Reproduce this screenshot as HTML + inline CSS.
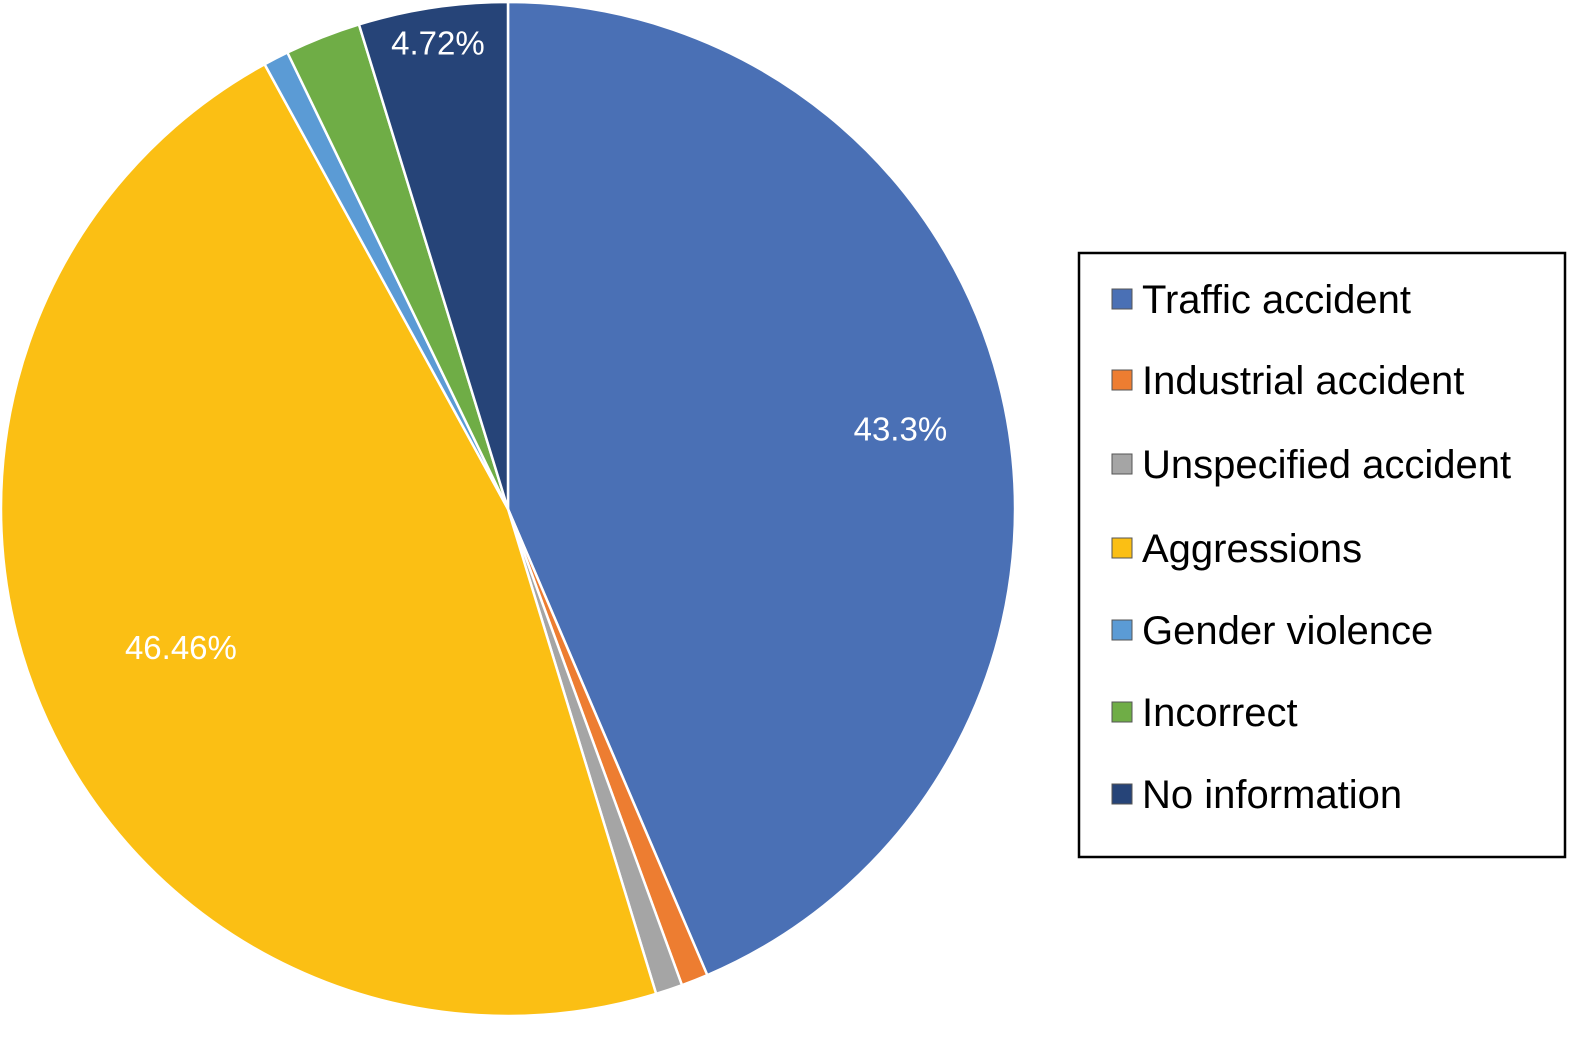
<!DOCTYPE html>
<html><head><meta charset="utf-8"><style>
body{margin:0;background:#fff;width:1594px;height:1037px;overflow:hidden;font-family:"Liberation Sans",Arial,sans-serif}
</style></head><body>
<svg id="chart" width="1594" height="1037" xmlns="http://www.w3.org/2000/svg"></svg>
<script>
const categories=["Traffic accident","Industrial accident","Unspecified accident","Aggressions","Gender violence","Incorrect","No information"];
const values=[43.3,0.85,0.85,46.46,0.8,2.4,4.72];
const labels=["43.3%","","","46.46%","","","4.72%"];
const colors=["#4a70b5","#ed7d31","#a5a5a5","#fbbf14","#5b9bd5","#6fad46","#264478"];
const NS="http://www.w3.org/2000/svg";
const svg=document.getElementById('chart');
const cx=508,cy=509,r=507;
const total=values.reduce((a,b)=>a+b,0);
function pt(a,rr){return [cx+rr*Math.sin(a),cy-rr*Math.cos(a)];}
let a0=0;
values.forEach((v,i)=>{
  const a1=a0+v/total*2*Math.PI;
  const p0=pt(a0,r),p1=pt(a1,r);
  const large=(a1-a0)>Math.PI?1:0;
  const path=document.createElementNS(NS,'path');
  path.setAttribute('d',`M${cx},${cy}L${p0[0]},${p0[1]}A${r},${r} 0 ${large} 1 ${p1[0]},${p1[1]}Z`);
  path.setAttribute('fill',colors[i]);
  path.setAttribute('stroke','#fff');
  path.setAttribute('stroke-width','2.5');
  
  
  svg.appendChild(path);
  a0=a1;
});
a0=0;
const lr=[0.79,0,0,0.70,0,0,0.93];
values.forEach((v,i)=>{
  const a1=a0+v/total*2*Math.PI;
  if(labels[i]){
    const p=pt((a0+a1)/2,r*lr[i]);
    const t=document.createElementNS(NS,'text');
    t.setAttribute('x',p[0]);t.setAttribute('y',p[1]+12);
    t.setAttribute('text-anchor','middle');t.setAttribute('fill','#fff');
    t.setAttribute('font-size','33');
    
    
    t.textContent=labels[i];svg.appendChild(t);
  }
  a0=a1;
});
const box=document.createElementNS(NS,'rect');
box.setAttribute('x',1079);box.setAttribute('y',253);box.setAttribute('width',486);box.setAttribute('height',604);
box.setAttribute('fill','#fff');box.setAttribute('stroke','#000');box.setAttribute('stroke-width','2.5');


svg.appendChild(box);
const ys=[299,380,464,548,630,712,794];
categories.forEach((c,i)=>{
  const g=document.createElementNS(NS,'g');
  
  
  const s=document.createElementNS(NS,'rect');
  s.setAttribute('x',1112);s.setAttribute('y',ys[i]-10);s.setAttribute('width',20);s.setAttribute('height',20);
  s.setAttribute('fill',colors[i]);s.setAttribute('stroke','#555');s.setAttribute('stroke-width','1');
  g.appendChild(s);
  const t=document.createElementNS(NS,'text');
  t.setAttribute('x',1142);t.setAttribute('y',ys[i]+14);t.setAttribute('font-size','40');t.setAttribute('fill','#000');
  t.setAttribute('textLength',Math.round(c.length*0));
  t.removeAttribute('textLength');
  t.textContent=c;g.appendChild(t);
  svg.appendChild(g);
});
</script>
</body></html>
